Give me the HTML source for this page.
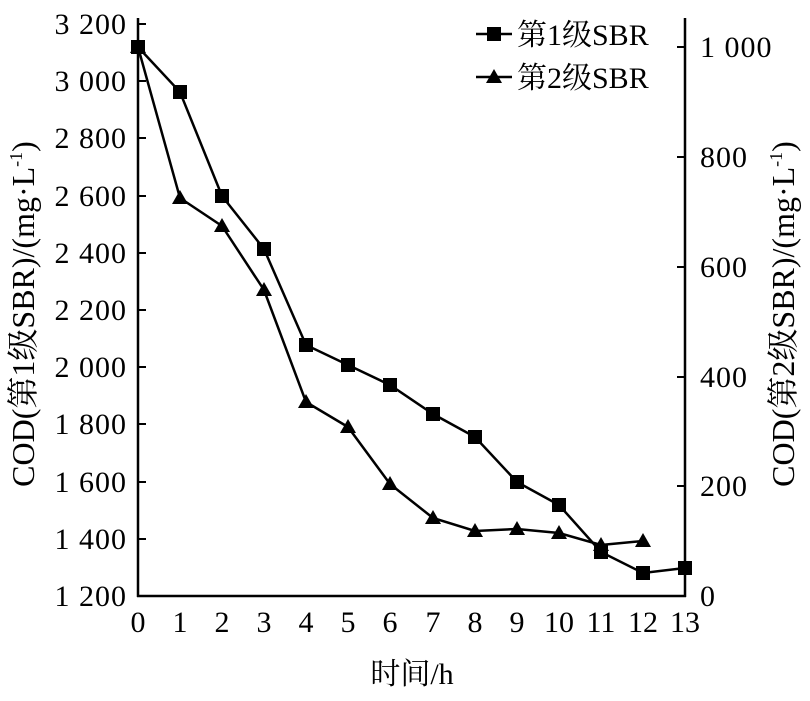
<!DOCTYPE html>
<html><head><meta charset="utf-8"><style>
body{margin:0;background:#fff;}
svg text{font-family:"Liberation Serif","Noto Serif CJK SC",serif;fill:#000;}
</style></head><body>
<svg width="810" height="696" xmlns="http://www.w3.org/2000/svg">
<g stroke="#000" stroke-width="2.5" fill="none">
<line x1="138" y1="18" x2="138" y2="597"/>
<line x1="137" y1="596" x2="686" y2="596"/>
<line x1="685" y1="18" x2="685" y2="597"/>
</g>
<g stroke="#000" stroke-width="2">
<line x1="138" y1="24" x2="146" y2="24"/><line x1="138" y1="81" x2="146" y2="81"/><line x1="138" y1="138" x2="146" y2="138"/><line x1="138" y1="196" x2="146" y2="196"/><line x1="138" y1="253" x2="146" y2="253"/><line x1="138" y1="310" x2="146" y2="310"/><line x1="138" y1="367" x2="146" y2="367"/><line x1="138" y1="424" x2="146" y2="424"/><line x1="138" y1="482" x2="146" y2="482"/><line x1="138" y1="539" x2="146" y2="539"/>
<line x1="677" y1="47" x2="685" y2="47"/><line x1="677" y1="157" x2="685" y2="157"/><line x1="677" y1="267" x2="685" y2="267"/><line x1="677" y1="377" x2="685" y2="377"/><line x1="677" y1="486" x2="685" y2="486"/>
</g>
<g font-size="30" text-anchor="end" letter-spacing="1">
<text x="127" y="34">3 200</text><text x="127" y="91">3 000</text><text x="127" y="148">2 800</text><text x="127" y="206">2 600</text><text x="127" y="263">2 400</text><text x="127" y="320">2 200</text><text x="127" y="377">2 000</text><text x="127" y="434">1 800</text><text x="127" y="492">1 600</text><text x="127" y="549">1 400</text><text x="127" y="606">1 200</text>
</g>
<g font-size="30" letter-spacing="1">
<text x="700" y="57">1 000</text><text x="700" y="167">800</text><text x="700" y="277">600</text><text x="700" y="387">400</text><text x="700" y="496">200</text><text x="700" y="606">0</text>
</g>
<g font-size="30" text-anchor="middle">
<text x="138" y="632">0</text><text x="180" y="632">1</text><text x="222" y="632">2</text><text x="264" y="632">3</text><text x="306" y="632">4</text><text x="348" y="632">5</text><text x="390" y="632">6</text><text x="433" y="632">7</text><text x="475" y="632">8</text><text x="517" y="632">9</text><text x="559" y="632">10</text><text x="601" y="632">11</text><text x="643" y="632">12</text><text x="685" y="632">13</text>
<text x="412" y="684">时间/h</text>
</g>
<text font-size="32" text-anchor="middle" transform="translate(34,314) rotate(-90)">COD(第1级SBR)/(mg·L<tspan font-size="18" dy="-12">-1</tspan><tspan dy="12">)</tspan></text>
<text font-size="32" text-anchor="middle" transform="translate(794,314) rotate(-90)">COD(第2级SBR)/(mg·L<tspan font-size="18" dy="-12">-1</tspan><tspan dy="12">)</tspan></text>
<polyline fill="none" stroke="#000" stroke-width="2.5" points="138,47 180,92 222,196 264,249 306,345 348,365 390,385 433,414 475,437 517,482 559,505 601,552 643,573 685,568"/>
<g fill="#000">
<rect x="131" y="40" width="14" height="14"/><rect x="173" y="85" width="14" height="14"/><rect x="215" y="189" width="14" height="14"/><rect x="257" y="242" width="14" height="14"/><rect x="299" y="338" width="14" height="14"/><rect x="341" y="358" width="14" height="14"/><rect x="383" y="378" width="14" height="14"/><rect x="426" y="407" width="14" height="14"/><rect x="468" y="430" width="14" height="14"/><rect x="510" y="475" width="14" height="14"/><rect x="552" y="498" width="14" height="14"/><rect x="594" y="545" width="14" height="14"/><rect x="636" y="566" width="14" height="14"/><rect x="678" y="561" width="14" height="14"/>
</g>
<polyline fill="none" stroke="#000" stroke-width="2.5" points="138,47 180,198 222,226 264,290 306,402 348,427 390,484 433,518 475,531 517,529 559,533 601,545 643,541"/>
<g fill="#000">
<polygon points="138,39 146,53 130,53"/><polygon points="180,190 188,204 172,204"/><polygon points="222,218 230,232 214,232"/><polygon points="264,282 272,296 256,296"/><polygon points="306,394 314,408 298,408"/><polygon points="348,419 356,433 340,433"/><polygon points="390,476 398,490 382,490"/><polygon points="433,510 441,524 425,524"/><polygon points="475,523 483,537 467,537"/><polygon points="517,521 525,535 509,535"/><polygon points="559,525 567,539 551,539"/><polygon points="601,537 609,551 593,551"/><polygon points="643,533 651,547 635,547"/>
</g>
<line x1="476" y1="34" x2="512" y2="34" stroke="#000" stroke-width="2.5"/>
<rect x="487" y="27" width="14" height="14" fill="#000"/>
<line x1="476" y1="77" x2="512" y2="77" stroke="#000" stroke-width="2.5"/>
<polygon points="494,69 502,83 486,83" fill="#000"/>
<text x="517" y="45" font-size="30">第1级SBR</text>
<text x="517" y="88" font-size="30">第2级SBR</text>
</svg>
</body></html>
